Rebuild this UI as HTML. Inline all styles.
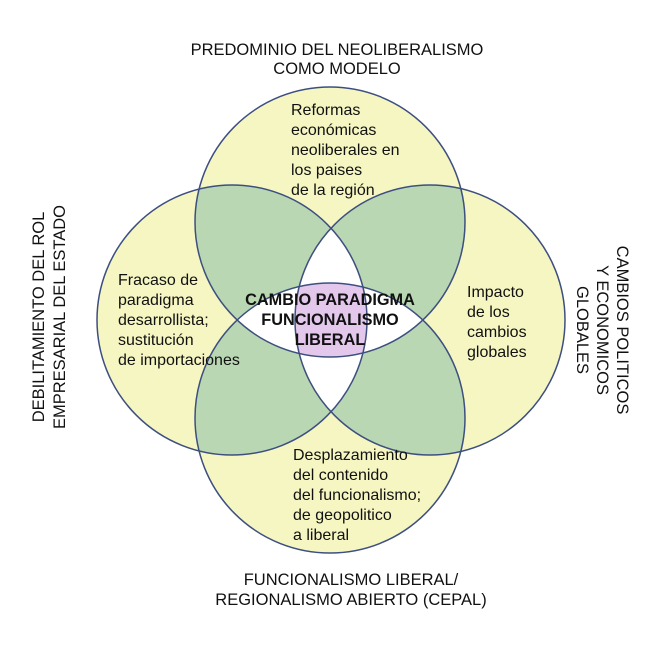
<!DOCTYPE html>
<html><head><meta charset="utf-8"><style>html,body{margin:0;padding:0;background:#fff}svg{display:block}text{font-family:"Liberation Sans",sans-serif;font-size:16px;fill:#111}.t{font-size:16.5px}.c{font-size:16.3px;font-weight:bold}</style></head><body>
<svg width="661" height="661" viewBox="0 0 661 661" xmlns="http://www.w3.org/2000/svg">
<defs>
<clipPath id="cT"><circle cx="330" cy="222" r="135"/></clipPath>
<clipPath id="cB"><circle cx="330" cy="418" r="135"/></clipPath>
<clipPath id="cL"><circle cx="232" cy="320" r="135"/></clipPath>
<clipPath id="cR"><circle cx="430" cy="320" r="135"/></clipPath>
</defs>
<g fill="#f6f6c2">
<circle cx="330" cy="222" r="135"/><circle cx="330" cy="418" r="135"/><circle cx="232" cy="320" r="135"/><circle cx="430" cy="320" r="135"/>
</g>
<g fill="#b9d7b2">
<g clip-path="url(#cT)"><circle cx="232" cy="320" r="135"/><circle cx="430" cy="320" r="135"/></g>
<g clip-path="url(#cB)"><circle cx="232" cy="320" r="135"/><circle cx="430" cy="320" r="135"/></g>
</g>
<g fill="#ffffff">
<g clip-path="url(#cT)"><circle cx="330" cy="418" r="135"/></g>
<g clip-path="url(#cL)"><circle cx="430" cy="320" r="135"/></g>
</g>
<g clip-path="url(#cT)"><g clip-path="url(#cB)"><g clip-path="url(#cL)"><circle cx="430" cy="320" r="135" fill="#e3c8ec"/></g></g></g>
<g fill="none" stroke="#3d4f80" stroke-width="1.5">
<circle cx="330" cy="222" r="135"/><circle cx="330" cy="418" r="135"/><circle cx="232" cy="320" r="135"/><circle cx="430" cy="320" r="135"/>
</g>
<text class="t" x="337" y="55" text-anchor="middle">PREDOMINIO DEL NEOLIBERALISMO</text>
<text class="t" x="337" y="74" text-anchor="middle">COMO MODELO</text>
<text class="t" x="351" y="585" text-anchor="middle">FUNCIONALISMO LIBERAL/</text>
<text class="t" x="351" y="605" text-anchor="middle">REGIONALISMO ABIERTO (CEPAL)</text>
<g transform="translate(44,317) rotate(-90)"><text class="t" x="0" y="0" text-anchor="middle">DEBILITAMIENTO DEL ROL</text><text class="t" x="0" y="21" text-anchor="middle">EMPRESARIAL DEL ESTADO</text></g>
<g transform="translate(617,330) rotate(90)"><text class="t" x="0" y="0" text-anchor="middle">CAMBIOS POLITICOS</text><text class="t" x="0" y="20" text-anchor="middle">Y ECONOMICOS</text><text class="t" x="0" y="40" text-anchor="middle">GLOBALES</text></g>
<text x="291" y="115">Reformas</text><text x="291" y="135">económicas</text><text x="291" y="155">neoliberales en</text><text x="291" y="175">los paises</text><text x="291" y="195">de la región</text>
<text x="118" y="285">Fracaso de</text><text x="118" y="305">paradigma</text><text x="118" y="325">desarrollista;</text><text x="118" y="345">sustitución</text><text x="118" y="365">de importaciones</text>
<text x="467" y="297">Impacto</text><text x="467" y="317">de los</text><text x="467" y="337">cambios</text><text x="467" y="357">globales</text>
<text x="293" y="460">Desplazamiento</text><text x="293" y="480">del contenido</text><text x="293" y="500">del funcionalismo;</text><text x="293" y="520">de geopolitico</text><text x="293" y="540">a liberal</text>
<text class="c" x="330" y="305" text-anchor="middle">CAMBIO PARADIGMA</text><text class="c" x="330" y="325" text-anchor="middle">FUNCIONALISMO</text><text class="c" x="330" y="345" text-anchor="middle">LIBERAL</text>
</svg>
</body></html>
